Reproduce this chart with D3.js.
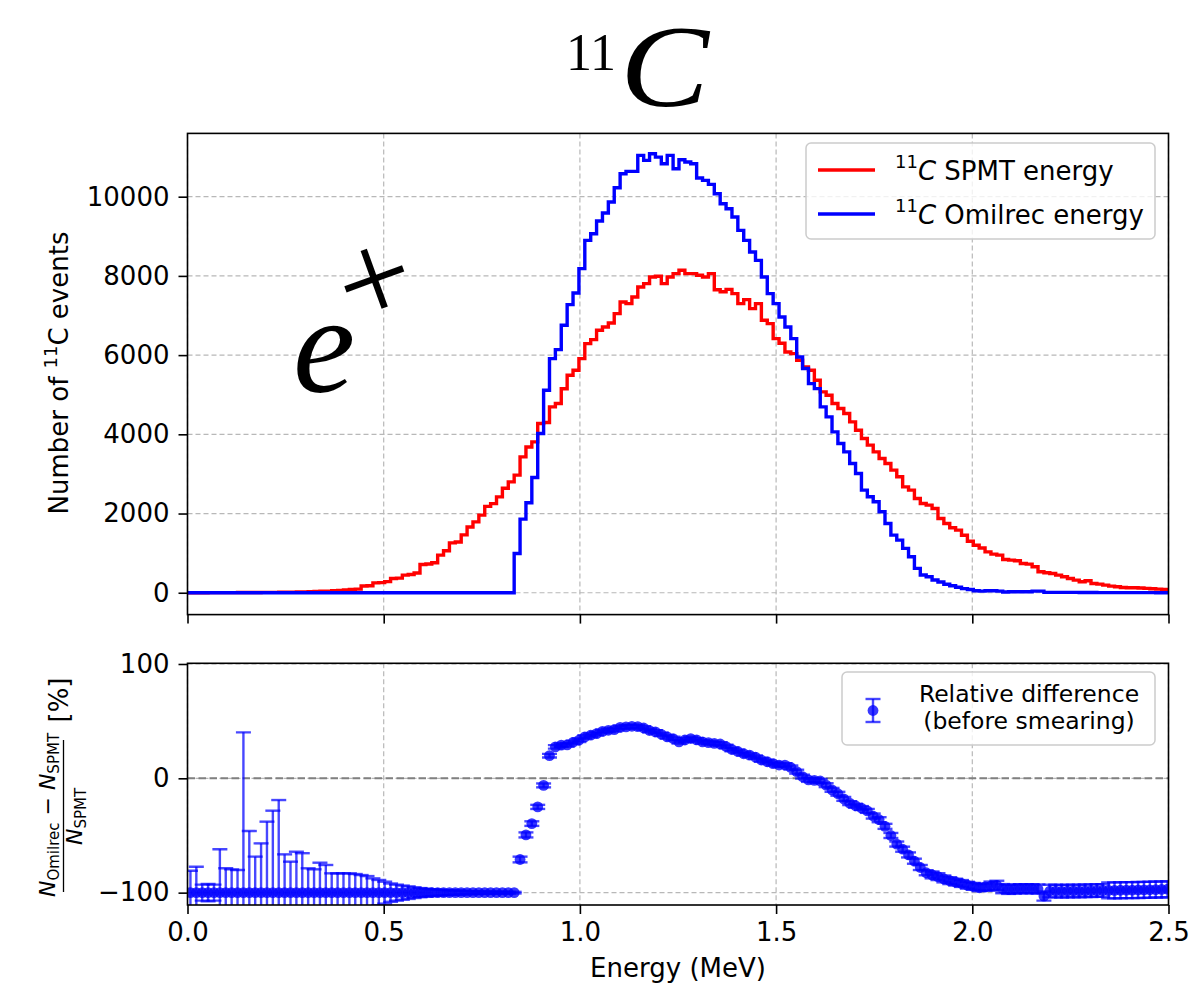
<!DOCTYPE html>
<html><head><meta charset="utf-8">
<script src="https://cdn.jsdelivr.net/npm/d3@7"></script>
<style>
html,body{margin:0;padding:0;background:#fff;}
svg{display:block;font-family:"DejaVu Sans",sans-serif;}
text{white-space:pre;}
</style></head><body>
<script>
// ---------------- data ----------------
const binWidth = 0.015; // MeV
// 11C SPMT energy histogram (bin k centred at k*binWidth)
const spmtCounts = [
0,0,1,1,2,2,3,3,4,5,
5,6,7,8,9,10,12,14,16,18,
22,26,30,36,42,50,58,68,80,92,
170,175,250,255,280,360,370,445,460,500,
714,725,756,950,1060,1260,1280,1460,1660,1790,
1960,2180,2250,2420,2640,2800,2970,3431,3680,3810,
4272,4300,4693,4777,5150,5492,5618,5912,6291,6392,
6627,6711,6812,7048,7342,7300,7468,7720,7804,7973,
7990,7804,7973,8057,8141,8057,8057,8015,7973,8057,
7650,7600,7661,7552,7300,7400,7174,7300,6880,6795,
6417,6300,6080,6038,5870,5702,5618,5366,5071,4987,
4777,4651,4525,4314,4104,3894,3726,3557,3389,3263,
3095,2927,2674,2590,2380,2254,2212,2128,1875,1749,
1640,1580,1453,1300,1200,1130,1033,975,950,840,
823,806,740,722,655,530,504,487,445,403,
361,319,277,302,235,218,193,168,151,134,
126,126,118,109,101,92,84,80];
// 11C Omilrec energy histogram
const omilrecCounts = [
0,0,0,0,0,0,0,0,
0,0,0,0,0,0,0,0,
0,0,0,0,0,0,0,0,
0,0,0,0,0,0,0,0,
0,0,0,0,0,0,0,0,
0,0,0,0,0,0,0,0,
0,0,0,0,0,0,0,0,
992,1859,2271,2910,
4020,5113,5912,6139,6753,7275,7569,8183,8898,9066,
9386,9587,9865,10227,10580,10640,10640,11042,10916,11084,
11000,10832,11042,10706,10933,10874,10832,10470,10412,10311,
10075,9823,9697,9486,9150,8898,8603,8393,7973,7552,
7300,6964,6711,6417,5954,5660,5281,5155,4693,4440,
4062,3768,3557,3263,3011,2590,2422,2296,2044,1749,
1455,1329,1119,908,614,446,404,320,270,215,
175,140,105,80,50,42,50,50,42,17,
25,25,25,25,42,42,10,10,10,10,
10,8,6,5,5,4,4,3,3,3,
3,2,2,2,2,1,1,1];
// Relative difference (before smearing), point j centred at (j+0.5)*binWidth, in %
const relDiff = [
-100,-100,-100,-100,-100,-100,-100,-100,
-100,-100,-100,-100,-100,-100,-100,-100,
-100,-100,-100,-100,-100,-100,-100,-100,
-100,-100,-100,-100,-100,-100,-100,-100,
-100,-100,-100,-100,-100,-100,-100,-100,
-100,-100,-100,-100,-100,-100,-100,-100,
-100,-100,-100,-100,-100,-100,-100,-100,
-71.0,-49.5,-39.6,-25.0,
-6.2,19.8,27.5,29.0,29.3,31.5,33.3,36.2,37.7,39.1,
41.0,42.0,42.6,44.5,45.0,45.5,45.2,44.0,41.8,40.6,
38.5,36.2,34.8,31.9,33.5,34.8,33.6,31.9,31.2,30.5,
30.0,27.8,25.2,23.5,21.5,20.3,18.5,16.0,14.5,12.8,
11.6,11.6,9.5,5.8,1.5,-1.4,-1.8,-2.3,-6.0,-10.1,
-13.5,-18.0,-21.7,-24.0,-26.0,-28.5,-33.0,-36.2,-42.0,-50.0,
-57.5,-62.0,-67.0,-72.5,-78.0,-82.6,-84.5,-86.0,-88.0,-89.5,
-90.8,-92.0,-93.5,-94.5,-95.7,-95.0,-94.3,-93.6,-96.5,-97.1,
-96.8,-96.6,-96.5,-96.6,-96.8,-103.0,-98.6,-98.6,-98.8,-98.6,
-98.5,-98.6,-98.4,-98.3,-98.2,-98.1,-98.0,-98.0,-97.9,-97.8,
-97.8,-97.7,-97.6,-97.5,-97.3,-97.2,-97.0];
const relErr = [
19.2,22.7,7,7.6,7,37.9,21.3,20.4,19.8,140.2,
53.9,31.5,43.1,62.1,71.7,81,33.5,27.1,35.8,34.5,
21.3,20.4,26.2,24.2,16.9,16.9,16.9,16.9,16.3,15.4,
14.5,12.5,11.1,9.6,8,7,6.2,5.5,4.7,4,
3.5,3,2.6,2.2,2,1.8,1.6,1.4,1.2,1.1,
1,0.9,0.8,0.8,0.7,0.7,
2.5,2.2,2,1.8,
1.7,1.6,1.5,1.5,1.5,1.5,1.5,1.5,1.5,1.5,
1.5,1.5,1.5,1.5,1.5,1.5,1.5,1.5,1.5,1.5,
1.5,1.5,1.5,1.5,1.5,1.5,1.5,1.5,1.5,1.5,
1.5,1.5,1.5,1.5,1.5,1.5,1.5,1.5,1.5,1.5,
1.5,1.7,1.7,1.7,1.7,1.7,1.7,1.7,1.7,1.7,
1.7,1.7,1.7,1.7,1.7,1.7,2.2,2.2,2.2,2.2,
2.2,2.2,2.2,2.2,2.2,2.2,3,3,3,3,
3,3,3,3,3,3,4,4,4,4,
4,4,4,4,4,4,5.5,5.5,5.5,5.5,
5.5,5.5,5.5,5.5,5.5,5.5,7,7,7,7,
7,7,7,7,7,7,7];
const xTicks = [0, 0.5, 1.0, 1.5, 2.0, 2.5];
const topYTicks = [0, 2000, 4000, 6000, 8000, 10000];
const bottomYTicks = [-100, 0, 100];
const seriesLabels = ["SPMT energy", "Omilrec energy"];
const seriesColors = ["#ff0000", "#0000ff"];

// ---------------- layout ----------------
const W = 1191, H = 988;
const L = 187.5, R = 1168.5, T1 = 133.4, B1 = 614.6, T2 = 663.3, B2 = 905;
const svg = d3.select("body").append("svg").attr("width", W).attr("height", H);

const x = d3.scaleLinear().domain([0, 2.5]).range([L, R]);
const yTop = d3.scaleLinear().domain([-552, 11598]).range([B1, T1]);
const yBot = d3.scaleLinear().domain([-110.8, 100.6]).range([B2, T2]);

const defs = svg.append("defs");
defs.append("clipPath").attr("id", "clipTop").append("rect")
  .attr("x", L).attr("y", T1).attr("width", R - L).attr("height", B1 - T1);
defs.append("clipPath").attr("id", "clipBot").append("rect")
  .attr("x", L).attr("y", T2).attr("width", R - L).attr("height", B2 - T2);

const gridColor = "#b8b8b8";
function grid(yScale, yTicks, top, bottom) {
  const g = svg.append("g");
  g.selectAll("line.v").data(xTicks).join("line")
    .attr("x1", d => x(d)).attr("x2", d => x(d)).attr("y1", top).attr("y2", bottom)
    .attr("stroke", gridColor).attr("stroke-width", 1.2).attr("stroke-dasharray", "5,3");
  g.selectAll("line.h").data(yTicks).join("line")
    .attr("x1", L).attr("x2", R).attr("y1", d => yScale(d)).attr("y2", d => yScale(d))
    .attr("stroke", gridColor).attr("stroke-width", 1.2).attr("stroke-dasharray", "5,3");
}
grid(yTop, topYTicks, T1, B1);
grid(yBot, bottomYTicks, T2, B2);

// ---------------- top panel: step histograms ----------------
function stepPoints(counts) {
  const e0 = -binWidth / 2;
  const pts = [[e0, 0]];
  counts.forEach((v, k) => {
    const lo = e0 + k * binWidth;
    pts.push([lo, v]); pts.push([lo + binWidth, v]);
  });
  pts.push([e0 + counts.length * binWidth, 0]);
  return pts;
}
const stepLine = d3.line().x(d => x(d[0])).y(d => yTop(d[1]));
const gTop = svg.append("g").attr("clip-path", "url(#clipTop)");
[spmtCounts, omilrecCounts].forEach((c, i) => {
  gTop.append("path").attr("d", stepLine(stepPoints(c)))
    .attr("fill", "none").attr("stroke", seriesColors[i]).attr("stroke-width", 3.4)
    .attr("stroke-linejoin", "miter");
});

// ---------------- bottom panel: relative difference ----------------
const gBot = svg.append("g").attr("clip-path", "url(#clipBot)");
gBot.append("line").attr("x1", L).attr("x2", R).attr("y1", yBot(0)).attr("y2", yBot(0))
  .attr("stroke", "#808080").attr("stroke-width", 2).attr("stroke-dasharray", "7.5,3.5");
const pts = relDiff.map((v, j) => ({ e: (j + 0.5) * binWidth, v: v, err: relErr[j] }));
const capHalf = 7.5;
const eb = gBot.append("g").attr("stroke", "#0000ff").attr("stroke-opacity", 0.72).attr("stroke-width", 2.4);
eb.selectAll("line.bar").data(pts).join("line")
  .attr("x1", d => x(d.e)).attr("x2", d => x(d.e))
  .attr("y1", d => yBot(d.v - d.err)).attr("y2", d => yBot(d.v + d.err));
eb.selectAll("line.capU").data(pts).join("line")
  .attr("x1", d => x(d.e) - capHalf).attr("x2", d => x(d.e) + capHalf)
  .attr("y1", d => yBot(d.v + d.err)).attr("y2", d => yBot(d.v + d.err));
eb.selectAll("line.capD").data(pts).join("line")
  .attr("x1", d => x(d.e) - capHalf).attr("x2", d => x(d.e) + capHalf)
  .attr("y1", d => yBot(d.v - d.err)).attr("y2", d => yBot(d.v - d.err));
gBot.append("g").selectAll("circle").data(pts).join("circle")
  .attr("cx", d => x(d.e)).attr("cy", d => yBot(d.v)).attr("r", 5.4)
  .attr("fill", "#0000ff").attr("fill-opacity", 0.78);

// ---------------- axes ----------------
function styleAxis(g) {
  g.attr("font-size", 26).attr("font-family", "DejaVu Sans");
  g.select(".domain").remove();
  g.selectAll(".tick line").attr("stroke", "#000").attr("stroke-width", 1.6);
  g.selectAll(".tick text").attr("fill", "#000");
}
svg.append("g").attr("transform", `translate(${L},0)`)
  .call(d3.axisLeft(yTop).tickValues(topYTicks).tickFormat(d3.format("d")).tickSize(9).tickPadding(9))
  .call(styleAxis);
svg.append("g").attr("transform", `translate(0,${B1})`)
  .call(d3.axisBottom(x).tickValues(xTicks).tickFormat("").tickSize(9))
  .call(styleAxis);
svg.append("g").attr("transform", `translate(${L},0)`)
  .call(d3.axisLeft(yBot).tickValues(bottomYTicks).tickFormat(d3.format("d")).tickSize(9).tickPadding(9))
  .call(styleAxis);
svg.append("g").attr("transform", `translate(0,${B2})`)
  .call(d3.axisBottom(x).tickValues(xTicks).tickFormat(d3.format(".1f")).tickSize(9).tickPadding(9))
  .call(styleAxis);

// spines
[[T1, B1], [T2, B2]].forEach(([t, b]) => {
  svg.append("rect").attr("x", L).attr("y", t).attr("width", R - L).attr("height", b - t)
    .attr("fill", "none").attr("stroke", "#000").attr("stroke-width", 1.6);
});

// ---------------- labels ----------------
svg.append("text").attr("x", (L + R) / 2).attr("y", 977).attr("text-anchor", "middle")
  .attr("font-size", 26).text("Energy (MeV)");

const yl = svg.append("text").attr("transform", "translate(68,373) rotate(-90)")
  .attr("text-anchor", "middle").attr("font-size", 26);
yl.append("tspan").text("Number of ");
yl.append("tspan").attr("font-size", 18).attr("dy", -11).text("11");
yl.append("tspan").attr("dy", 11).text("C events");

const fl = svg.append("g").attr("transform", "translate(63,784) rotate(-90)");
const num = fl.append("text").attr("x", -31).attr("y", -8).attr("text-anchor", "middle").attr("font-size", 22);
num.append("tspan").attr("font-style", "italic").text("N");
num.append("tspan").attr("font-size", 15).attr("dy", 3.5).text("Omilrec");
num.append("tspan").attr("dy", -3.5).text(" \u2212 ");
num.append("tspan").attr("font-style", "italic").text("N");
num.append("tspan").attr("font-size", 15).attr("dy", 3.5).text("SPMT");
fl.append("line").attr("x1", -108).attr("x2", 44).attr("y1", 0.5).attr("y2", 0.5)
  .attr("stroke", "#000").attr("stroke-width", 1.3);
const den = fl.append("text").attr("x", -32.5).attr("y", 19).attr("text-anchor", "middle").attr("font-size", 22);
den.append("tspan").attr("font-style", "italic").text("N");
den.append("tspan").attr("font-size", 15).attr("dy", 3.5).text("SPMT");
fl.append("text").attr("x", 84).attr("y", 5).attr("text-anchor", "middle").attr("font-size", 26).text("[%]");

// title
svg.append("text").attr("x", 566).attr("y", 70).attr("font-family", "Liberation Serif")
  .attr("font-size", 52).text("11");
svg.append("text").attr("transform", "translate(620,106) scale(1.15,1)")
  .attr("font-family", "Liberation Serif").attr("font-style", "italic").attr("font-size", 116).text("C");

// e+ annotation
svg.append("text").attr("x", 293).attr("y", 392).attr("font-family", "Liberation Serif")
  .attr("font-style", "italic").attr("font-size", 140).text("e");
svg.append("text").attr("transform", "translate(378,289) rotate(-20)").attr("x", 0).attr("y", 33)
  .attr("text-anchor", "middle").attr("font-family", "Liberation Serif").attr("font-size", 132).text("+");

// ---------------- legends ----------------
const lg = svg.append("g");
lg.append("rect").attr("x", 806).attr("y", 143).attr("width", 349).attr("height", 96).attr("rx", 5)
  .attr("fill", "#fff").attr("fill-opacity", 0.8).attr("stroke", "#cccccc").attr("stroke-width", 1.5);
seriesLabels.forEach((lab, i) => {
  const cy = 170 + i * 44;
  lg.append("line").attr("x1", 818).attr("x2", 875).attr("y1", cy).attr("y2", cy)
    .attr("stroke", seriesColors[i]).attr("stroke-width", 3.4);
  const t = lg.append("text").attr("x", 895).attr("y", cy + 10).attr("font-size", 26);
  t.append("tspan").attr("font-size", 18).attr("dy", -12).text("11");
  t.append("tspan").attr("font-style", "italic").attr("dy", 12).text("C");
  t.append("tspan").text(" " + lab);
});

const lb = svg.append("g");
lb.append("rect").attr("x", 842).attr("y", 672).attr("width", 313).attr("height", 73).attr("rx", 5)
  .attr("fill", "#fff").attr("fill-opacity", 0.8).attr("stroke", "#cccccc").attr("stroke-width", 1.5);
const lbg = lb.append("g").attr("stroke", "#0000ff").attr("stroke-opacity", 0.72).attr("stroke-width", 2.4);
lbg.append("line").attr("x1", 873).attr("x2", 873).attr("y1", 699).attr("y2", 722);
lbg.append("line").attr("x1", 873 - capHalf).attr("x2", 873 + capHalf).attr("y1", 699).attr("y2", 699);
lbg.append("line").attr("x1", 873 - capHalf).attr("x2", 873 + capHalf).attr("y1", 722).attr("y2", 722);
lb.append("circle").attr("cx", 873).attr("cy", 710.5).attr("r", 5.4).attr("fill", "#0000ff").attr("fill-opacity", 0.78);
lb.append("text").attr("x", 1029).attr("y", 702).attr("text-anchor", "middle").attr("font-size", 23.5).text("Relative difference");
lb.append("text").attr("x", 1029).attr("y", 729).attr("text-anchor", "middle").attr("font-size", 23.5).text("(before smearing)");
</script>
</body></html>
